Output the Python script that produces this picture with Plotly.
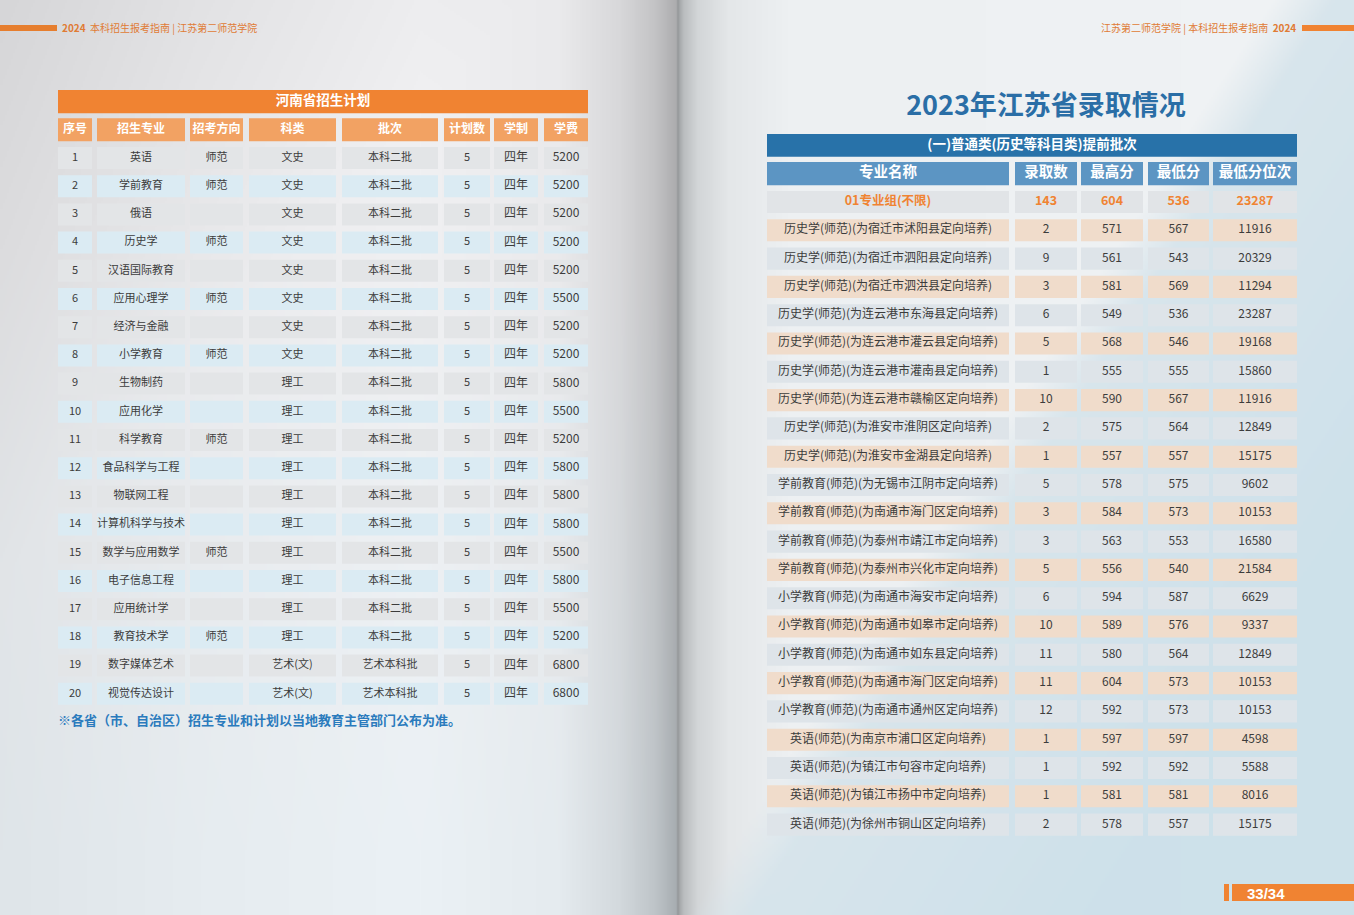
import base64, struct, zlib
import numpy as np
import plotly.graph_objects as go

# ---------------- data: left table (河南省招生计划) ----------------
hn_title = "河南省招生计划"
hn_headers = ["序号", "招生专业", "招考方向", "科类", "批次", "计划数", "学制", "学费"]
hn_seq = [1, 2, 3, 4, 5, 6, 7, 8, 9, 10, 11, 12, 13, 14, 15, 16, 17, 18, 19, 20]
hn_major = ["英语", "学前教育", "俄语", "历史学", "汉语国际教育", "应用心理学", "经济与金融", "小学教育",
            "生物制药", "应用化学", "科学教育", "食品科学与工程", "物联网工程", "计算机科学与技术",
            "数学与应用数学", "电子信息工程", "应用统计学", "教育技术学", "数字媒体艺术", "视觉传达设计"]
hn_direction = ["师范", "师范", "", "师范", "", "师范", "", "师范", "", "", "师范", "", "", "",
                "师范", "", "", "师范", "", ""]
hn_subject = ["文史", "文史", "文史", "文史", "文史", "文史", "文史", "文史", "理工", "理工", "理工",
              "理工", "理工", "理工", "理工", "理工", "理工", "理工", "艺术(文)", "艺术(文)"]
hn_batch = ["本科二批"] * 18 + ["艺术本科批", "艺术本科批"]
hn_plan = [5, 5, 5, 5, 5, 5, 5, 5, 5, 5, 5, 5, 5, 5, 5, 5, 5, 5, 5, 5]
hn_years = ["四年"] * 20
hn_fee = [5200, 5200, 5200, 5200, 5200, 5500, 5200, 5200, 5800, 5500, 5200, 5800, 5800, 5800,
          5500, 5800, 5500, 5200, 6800, 6800]
hn_note = "※各省（市、自治区）招生专业和计划以当地教育主管部门公布为准。"

# ---------------- data: right table (2023年江苏省录取情况) ----------------
js_title = "2023年江苏省录取情况"
js_section = "(一)普通类(历史等科目类)提前批次"
js_headers = ["专业名称", "录取数", "最高分", "最低分", "最低分位次"]
js_names = ["01专业组(不限)",
            "历史学(师范)(为宿迁市沭阳县定向培养)", "历史学(师范)(为宿迁市泗阳县定向培养)",
            "历史学(师范)(为宿迁市泗洪县定向培养)", "历史学(师范)(为连云港市东海县定向培养)",
            "历史学(师范)(为连云港市灌云县定向培养)", "历史学(师范)(为连云港市灌南县定向培养)",
            "历史学(师范)(为连云港市赣榆区定向培养)", "历史学(师范)(为淮安市淮阴区定向培养)",
            "历史学(师范)(为淮安市金湖县定向培养)", "学前教育(师范)(为无锡市江阴市定向培养)",
            "学前教育(师范)(为南通市海门区定向培养)", "学前教育(师范)(为泰州市靖江市定向培养)",
            "学前教育(师范)(为泰州市兴化市定向培养)", "小学教育(师范)(为南通市海安市定向培养)",
            "小学教育(师范)(为南通市如皋市定向培养)", "小学教育(师范)(为南通市如东县定向培养)",
            "小学教育(师范)(为南通市海门区定向培养)", "小学教育(师范)(为南通市通州区定向培养)",
            "英语(师范)(为南京市浦口区定向培养)", "英语(师范)(为镇江市句容市定向培养)",
            "英语(师范)(为镇江市扬中市定向培养)", "英语(师范)(为徐州市铜山区定向培养)"]
js_admitted = [143, 2, 9, 3, 6, 5, 1, 10, 2, 1, 5, 3, 3, 5, 6, 10, 11, 11, 12, 1, 1, 1, 2]
js_max = [604, 571, 561, 581, 549, 568, 555, 590, 575, 557, 578, 584, 563, 556, 594, 589, 580,
          604, 592, 597, 592, 581, 578]
js_min = [536, 567, 543, 569, 536, 546, 555, 567, 564, 557, 575, 573, 553, 540, 587, 576, 564,
          573, 573, 597, 592, 581, 557]
js_rank = [23287, 11916, 20329, 11294, 23287, 19168, 15860, 11916, 12849, 15175, 9602, 10153,
           16580, 21584, 6629, 9337, 12849, 10153, 10153, 4598, 5588, 8016, 15175]

page_label = "33/34"
running_head_left = "<b>2024</b>  本科招生报考指南 | 江苏第二师范学院"
running_head_right = "江苏第二师范学院 | 本科招生报考指南  <b>2024</b>"

# ---------------- styling / layout constants ----------------
W, H = 1354, 915
FONT = "Noto Sans CJK SC"
ORANGE = "#f08332"
TXT = "#3c3c3c"

# left table column edges (x units = px inside table)
hn_cols = [(0, 34), (39, 127), (132, 185), (191, 278), (284, 380), (386, 432), (436, 480), (486, 530)]
# right table column edges
js_cols = [(0, 242), (248, 310), (314, 376), (381, 442), (446, 530)]


def frac_y(px):
    return 1 - px / H


# ---------------- background page image ----------------
def make_background():
    sc = 2
    w, h = W // sc + 1, H // sc + 1
    xs = np.arange(w) * sc
    ys = np.arange(h) * sc
    X, Y = np.meshgrid(xs, ys)
    spine = 678
    # left page
    lx = [0, 200, 420, 560, 620, 655, 677]
    lv = [228, 235, 240, 234, 216, 196, 172]
    base_l = np.interp(X, lx, lv)
    dark = np.clip(1 - (X + 0.9 * Y) / 520, 0, 1) * 14
    cool = np.clip((Y - 250) / 600, 0, 1)
    L = np.stack([base_l - dark - 5 * cool, base_l - dark + 1 * cool, base_l - dark + 2 + 3 * cool], -1)
    # right page
    dx = X - spine
    rx = [0, 2, 6, 20, 50, 110, 700]
    rv = [150, 168, 188, 212, 229, 238, 241]
    base_r = np.interp(dx, rx, rv)
    R = np.stack([base_r - 1, base_r + 2, base_r + 4], -1)
    # diagonal bluish region
    line = 1275 - 0.64 * Y
    t = np.clip((X - line) / 60, 0, 1)
    far = np.clip((X - line) / 400, 0, 1)
    blue = np.stack([214 - 14 * far, 228 - 6 * far, 235 - 2 * far], -1)
    R = R * (1 - t[..., None] * 0.85) + blue * (t[..., None] * 0.85)
    mask = (X < spine)[..., None]
    img = np.where(mask, L, R)
    img = np.clip(img, 0, 255).astype(np.uint8)
    raw = b"".join(b"\x00" + img[i].tobytes() for i in range(h))

    def chunk(tag, data):
        return struct.pack(">I", len(data)) + tag + data + struct.pack(">I", zlib.crc32(tag + data) & 0xffffffff)

    png = (b"\x89PNG\r\n\x1a\n" + chunk(b"IHDR", struct.pack(">IIBBBBB", w, h, 8, 2, 0, 0, 0))
           + chunk(b"IDAT", zlib.compress(raw, 9)) + chunk(b"IEND", b""))
    return "data:image/png;base64," + base64.b64encode(png).decode()


fig = go.Figure()

# axis geometry: row r centre px = origin + pitch*r
HN_ORIGIN, HN_PITCH = 158.0, 28.2
HN_RANGE = (20.6, -2.5)
JS_ORIGIN, JS_PITCH = 202.0, 28.3
JS_RANGE = (23.0, -4.5)


def ydom(origin, pitch, rng):
    bottom_px = origin + pitch * rng[0]
    top_px = origin + pitch * rng[1]
    return [frac_y(bottom_px), frac_y(top_px)]


fig.update_layout(
    xaxis=dict(domain=[58 / W, 588 / W], range=[0, 530], visible=False, fixedrange=True),
    yaxis=dict(domain=ydom(HN_ORIGIN, HN_PITCH, HN_RANGE), range=list(HN_RANGE), visible=False,
               fixedrange=True),
    xaxis2=dict(domain=[767 / W, 1297 / W], range=[0, 530], visible=False, fixedrange=True,
                anchor="y2"),
    yaxis2=dict(domain=ydom(JS_ORIGIN, JS_PITCH, JS_RANGE), range=list(JS_RANGE), visible=False,
                fixedrange=True, anchor="x2"),
)

shapes = []


def cell(xref, yref, x0, x1, r, half, color):
    shapes.append(dict(type="rect", xref=xref, yref=yref, x0=x0, x1=x1, y0=r - half, y1=r + half,
                       fillcolor=color, line=dict(width=0), layer="below"))


# ----- left table cells -----
cell("x", "y", 0, 530, -2, 0.41, ORANGE)
for (a, b) in hn_cols:
    cell("x", "y", a, b, -1, 0.41, "#f2a263")
for i in range(len(hn_seq)):
    c = "#e3e5e7" if i % 2 == 0 else "#dbebf3"
    for (a, b) in hn_cols:
        cell("x", "y", a, b, i, 0.39, c)

# ----- right table cells -----
cell("x2", "y2", 0, 530, -2, 0.40, "#2872a9")
for (a, b) in js_cols:
    cell("x2", "y2", a, b, -1, 0.41, "#5c95c3")
for i in range(len(js_names)):
    c = "#e1e4e7" if i == 0 else ("#f0dccb" if i % 2 == 1 else "#dee4e9")
    for (a, b) in js_cols:
        cell("x2", "y2", a, b, i, 0.39, c)


# ----- decorative page elements (paper coords) -----
def prect(x0, x1, y0, y1, color):
    shapes.append(dict(type="rect", xref="paper", yref="paper", x0=x0 / W, x1=x1 / W,
                       y0=frac_y(y1), y1=frac_y(y0), fillcolor=color, line=dict(width=0), layer="below"))


prect(0, 57, 25, 31, "#e67e2e")
prect(1302, 1354, 25, 31, "#f08332")
prect(1224, 1229, 884, 901, "#f08332")
prect(1232, 1354, 884, 901, "#f08332")

fig.update_layout(shapes=shapes)


def centres(cols):
    return [(a + b) / 2 for a, b in cols]


hn_c = centres(hn_cols)
js_c = centres(js_cols)
hn_rows = list(range(len(hn_seq)))
js_rows = list(range(len(js_names)))


def text_trace(x, y, text, size, color, xa="x", ya="y", weight="normal", pos="middle center"):
    fig.add_trace(go.Scatter(x=x, y=y, text=text, mode="text", xaxis=xa, yaxis=ya,
                             textposition=pos, hoverinfo="skip", showlegend=False,
                             textfont=dict(family=FONT, size=size, color=color, weight=weight)))


# left table texts
text_trace([265], [-2], [hn_title], 13.5, "white", weight="bold")
text_trace(hn_c, [-1] * len(hn_c), hn_headers, 12, "white", weight="bold")
hn_columns = [hn_seq, hn_major, hn_direction, hn_subject, hn_batch, hn_plan, hn_years, hn_fee]
hn_sizes = [11, 11, 11, 11, 11, 11, 12, 12]
for cx, col, sz in zip(hn_c, hn_columns, hn_sizes):
    text_trace([cx] * len(col), hn_rows, [str(v) for v in col], sz, TXT)
text_trace([0], [20.0], [hn_note], 13, "#2b7bbd", weight="bold", pos="middle right")

# right table texts
text_trace([279], [-3.3], [js_title], 27, "#2a6ea6", "x2", "y2", weight="bold")
text_trace([265], [-2], [js_section], 13.5, "white", "x2", "y2", weight="bold")
text_trace(js_c, [-1] * len(js_c), js_headers, 14.5, "white", "x2", "y2", weight="bold")
js_columns = [js_names, js_admitted, js_max, js_min, js_rank]
for cx, col in zip(js_c, js_columns):
    text_trace([cx] * (len(col) - 1), js_rows[1:], [str(v) for v in col[1:]], 12, TXT, "x2", "y2")
text_trace(js_c, [0] * len(js_c), [str(c[0]) for c in js_columns], 12.5, ORANGE, "x2", "y2",
           weight="bold")

annotations = [
    dict(text=running_head_left, x=60 / W, y=frac_y(28), xref="paper", yref="paper", xanchor="left",
         yanchor="middle", showarrow=False, font=dict(family=FONT, size=10, color="#e07b35")),
    dict(text=running_head_right, x=1298 / W, y=frac_y(28), xref="paper", yref="paper",
         xanchor="right", yanchor="middle", showarrow=False,
         font=dict(family=FONT, size=10, color="#e07b35")),
    dict(text="<b>" + page_label + "</b>", x=1266 / W, y=frac_y(893), xref="paper", yref="paper",
         xanchor="center", yanchor="middle", showarrow=False,
         font=dict(family="Liberation Sans", size=15, color="white")),
]

fig.update_layout(
    width=W, height=H, margin=dict(l=0, r=0, t=0, b=0),
    paper_bgcolor="#e9edf0", plot_bgcolor="rgba(0,0,0,0)",
    annotations=annotations,
    images=[dict(source=make_background(), xref="paper", yref="paper", x=0, y=1, sizex=1, sizey=1,
                 xanchor="left", yanchor="top", sizing="stretch", layer="below")],
    showlegend=False,
)

fig.write_html("out.html", config={"displayModeBar": False},
               post_script="document.body.style.margin='0';document.body.style.padding='0';")
